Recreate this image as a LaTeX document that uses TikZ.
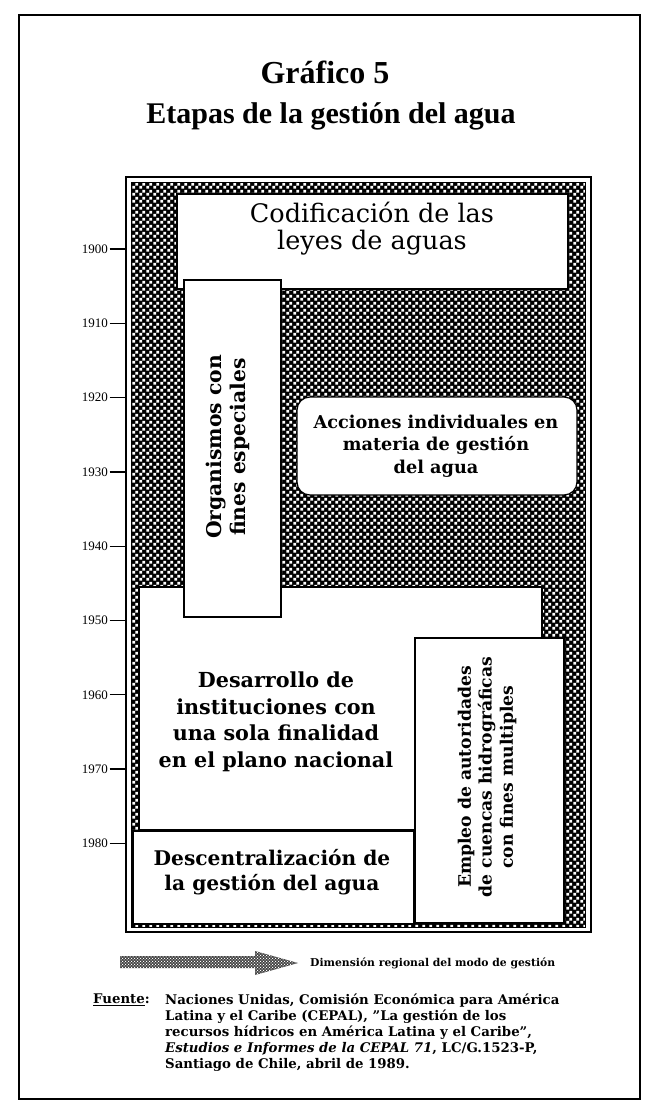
\documentclass[tikz,border=0pt]{standalone}
\usepackage{fontspec}
\setmainfont{DejaVu Serif}
\newfontfamily\timesf{Liberation Serif}
\usetikzlibrary{patterns}
\pgfdeclarepatternformonly{whitechk}{\pgfpointorigin}{\pgfqpoint{6.6pt}{6.6pt}}{\pgfqpoint{6.6pt}{6.6pt}}{%
  \pgfpathrectangle{\pgfqpoint{0.35pt}{0.35pt}}{\pgfqpoint{2.9pt}{2.9pt}}%
  \pgfpathrectangle{\pgfqpoint{3.65pt}{3.65pt}}{\pgfqpoint{2.9pt}{2.9pt}}%
  \pgfusepath{fill}}
\pgfdeclarepatternformonly{finechk}{\pgfpointorigin}{\pgfqpoint{3.4pt}{3.4pt}}{\pgfqpoint{3.4pt}{3.4pt}}{%
  \pgfpathrectangle{\pgfqpoint{0.2pt}{0.2pt}}{\pgfqpoint{1.2pt}{1.2pt}}%
  \pgfpathrectangle{\pgfqpoint{1.9pt}{1.9pt}}{\pgfqpoint{1.2pt}{1.2pt}}%
  \pgfusepath{fill}}
\tikzset{
  wbox/.style={draw=black, fill=white, line width=1.2pt, inner sep=0pt, outer sep=0pt},
  txt/.style={align=center, inner sep=0pt},
  yearlbl/.style={anchor=east, inner sep=0pt, font=\timesf\fontsize{13}{14}\selectfont},
}
\begin{document}
\begin{tikzpicture}[x=1pt, y=-1pt]
\useasboundingbox (0,0) rectangle (646,1109);
\fill[white] (0,0) rectangle (646,1109);
% outer page frame
\draw[line width=2pt] (19,15) rectangle (640,1099);
% titles
\node[txt, font=\timesf\bfseries\fontsize{32}{34}\selectfont] (t1) at (325,72) {Gráfico 5};
\node[txt, font=\timesf\bfseries\fontsize{30}{32}\selectfont] (t2) at (331,116) {Etapas de la gestión del agua};
% diagram frame
\fill[black] (131,182) rectangle (585,927);
\fill[pattern=whitechk, pattern color=white] (131,182) rectangle (585,927);
\draw[line width=1pt] (131,182) rectangle (585,927);
\draw[line width=2.2pt] (126,177) rectangle (591,932);
% boxes
\node[wbox, minimum width=391pt, minimum height=95pt] (codif) at (372.5,241.5) {};
\node[wbox, minimum width=403pt, minimum height=243pt] (desa) at (340.5,708.5) {};
\node[wbox, minimum width=97pt, minimum height=337pt] (orga) at (232.5,448.5) {};
\node[wbox, rounded corners=13pt, minimum width=280pt, minimum height=98pt] (acc) at (437,446) {};
\node[wbox, minimum width=149pt, minimum height=285pt] (empl) at (489.5,780.5) {};
\node[wbox, minimum width=281pt, minimum height=93pt] (desc) at (273.5,877.5) {};
% texts
\node[txt, font=\fontsize{25.5}{27}\selectfont] (codiftxt) at (372,229) {Codificación de las\\leyes de aguas};
\node[txt, rotate=90, font=\bfseries\fontsize{20.3}{24}\selectfont] (orgatxt) at (228,447) {Organismos con\\fines especiales};
\node[txt, font=\bfseries\fontsize{17.7}{22.5}\selectfont] (acctxt) at (436,446) {Acciones individuales en\\materia de gestión\\del agua};
\node[txt, font=\bfseries\fontsize{20.7}{26.5}\selectfont] (desatxt) at (276,722) {Desarrollo de\\instituciones con\\una sola finalidad\\en el plano nacional};
\node[txt, rotate=90, font=\bfseries\fontsize{17.2}{21}\selectfont] (empltxt) at (487,777) {Empleo de autoridades\\de cuencas hidrográficas\\con fines multiples};
\node[txt, font=\bfseries\fontsize{20.2}{25}\selectfont] (desctxt) at (272,872) {Descentralización de\\la gestión del agua};
% year axis
\foreach \yr [count=\i from 0] in {1900,1910,1920,1930,1940,1950,1960,1970,1980} {
  \node[yearlbl] (y\yr) at (108,{249+74.3*\i}) {\yr};
  \draw[line width=1.3pt] (y\yr.east) ++(1.5,0) -- ++(16,0);
}
% arrow
\path[fill=black!75] (120,956) -- (255,956) -- (255,951) -- (298,963) -- (255,975) -- (255,968) -- (120,968) -- cycle;
\path[pattern=finechk, pattern color=white] (120,956) -- (255,956) -- (255,951) -- (298,963) -- (255,975) -- (255,968) -- (120,968) -- cycle;
\node[anchor=west, inner sep=0pt, font=\bfseries\fontsize{10.8}{12}\selectfont] (arrlbl) at (310,963) {Dimensión regional del modo de gestión};
% source
\node[anchor=north west, inner sep=0pt, font=\bfseries\fontsize{13.3}{15.8}\selectfont] (fuente) at (93,994) {\underline{Fuente}:};
\node[anchor=north west, inner sep=0pt, align=left, font=\bfseries\fontsize{13.3}{15.8}\selectfont] (src) at (165,994) {Naciones Unidas, Comisión Económica para América\\Latina y el Caribe (CEPAL), "La gestión de los\\recursos hídricos en América Latina y el Caribe",\\\textit{Estudios e Informes de la CEPAL 71}, LC/G.1523-P,\\Santiago de Chile, abril de 1989.};
\end{tikzpicture}
\end{document}
